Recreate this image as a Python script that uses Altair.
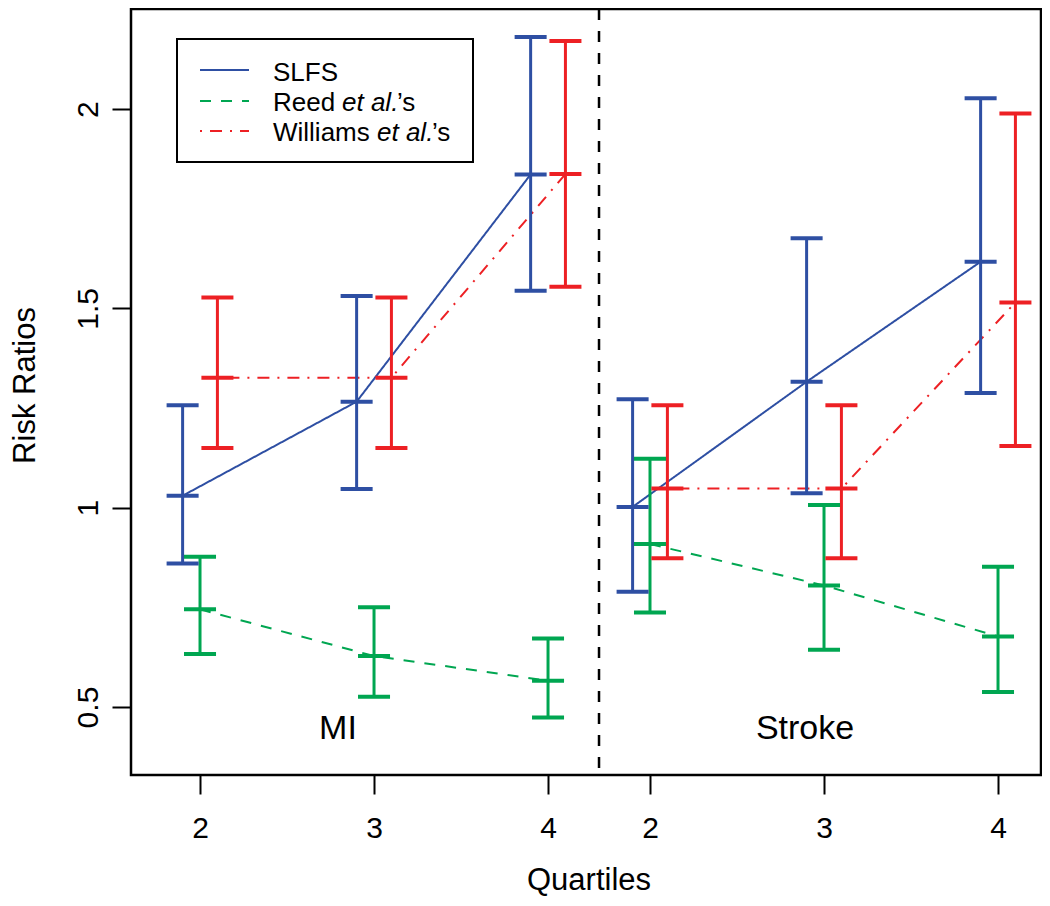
import altair as alt
import pandas as pd

# ---------------- data ----------------
quartiles = [2, 3, 4]
groups = ["MI", "Stroke"]
series_names = ["SLFS", "Reed", "Williams"]
tick_labels = ["2", "3", "4", "2", "3", "4"]

slfs_mi_est = [1.030, 1.266, 1.836]
slfs_mi_lo = [0.860, 1.047, 1.544]
slfs_mi_hi = [1.257, 1.531, 2.181]
slfs_st_est = [1.002, 1.316, 1.617]
slfs_st_lo = [0.789, 1.036, 1.288]
slfs_st_hi = [1.272, 1.676, 2.027]

reed_mi_est = [0.745, 0.628, 0.566]
reed_mi_lo = [0.633, 0.526, 0.474]
reed_mi_hi = [0.877, 0.750, 0.672]
reed_st_est = [0.909, 0.805, 0.677]
reed_st_lo = [0.737, 0.644, 0.538]
reed_st_hi = [1.123, 1.007, 0.852]

will_mi_est = [1.326, 1.326, 1.837]
will_mi_lo = [1.150, 1.150, 1.554]
will_mi_hi = [1.527, 1.527, 2.171]
will_st_est = [1.048, 1.048, 1.515]
will_st_lo = [0.873, 0.873, 1.155]
will_st_hi = [1.257, 1.257, 1.989]

# ---------------- layout constants ----------------
group_shift = {"MI": 0.0, "Stroke": 2.586}
series_offset = {"SLFS": -0.1, "Reed": 0.0, "Williams": 0.1}
CAP = 0.092
colors = ["#2E4FA3", "#00A651", "#ED2024"]
dashes = [[1, 0], [11, 10], [2, 8, 12, 8]]
FONT = "Liberation Sans"

table = {
    ("SLFS", "MI"): (slfs_mi_est, slfs_mi_lo, slfs_mi_hi),
    ("SLFS", "Stroke"): (slfs_st_est, slfs_st_lo, slfs_st_hi),
    ("Reed", "MI"): (reed_mi_est, reed_mi_lo, reed_mi_hi),
    ("Reed", "Stroke"): (reed_st_est, reed_st_lo, reed_st_hi),
    ("Williams", "MI"): (will_mi_est, will_mi_lo, will_mi_hi),
    ("Williams", "Stroke"): (will_st_est, will_st_lo, will_st_hi),
}
rows = []
for (s, g), (e, l, h) in table.items():
    for q, ev, lv, hv in zip(quartiles, e, l, h):
        rows.append({"series": s, "group": g, "quartile": q,
                     "est": ev, "lo": lv, "hi": hv,
                     "x": q - 1 + group_shift[g] + series_offset[s]})
df = pd.DataFrame(rows)

tick_values = [q - 1 + group_shift[g] for g in groups for q in quartiles]
sep_x = (tick_values[2] + tick_values[3]) / 2
label_expr = "{" + ",".join(
    f"'{v:.3f}':'{t}'" for v, t in zip(tick_values, tick_labels)) + "}[format(datum.value, '.3f')]"

xscale = alt.Scale(domain=[0.6034, 5.833], nice=False, zero=False)
yscale = alt.Scale(domain=[0.3295, 2.251], nice=False, zero=False)

xaxis = alt.Axis(values=tick_values, labelExpr=label_expr, tickSize=19, tickWidth=2,
                 tickColor="black", labelFontSize=30, labelFont=FONT, labelColor="black",
                 labelPadding=43, labelBaseline="alphabetic", labelFlush=False,
                 labelOverlap=False, domain=False, grid=False, titleFontSize=31,
                 titleFont=FONT, titleFontWeight="normal", titleColor="black",
                 titleX=457.5, titleY=114, titleBaseline="alphabetic")
yaxis = alt.Axis(values=[0.5, 1, 1.5, 2], format=".1~f", tickSize=19, tickWidth=2,
                 tickColor="black", labelFontSize=30, labelFont=FONT, labelColor="black",
                 labelAngle=270, labelAlign="center", labelBaseline="alphabetic",
                 labelPadding=15, labelFlush=False, labelOverlap=False, domain=False,
                 grid=False, titleFontSize=31, titleFont=FONT, titleFontWeight="normal",
                 titleColor="black", titleX=-97, titleY=376, titleAngle=270,
                 titleAlign="center", titleBaseline="alphabetic")

color = alt.Color("series:N", scale=alt.Scale(domain=series_names, range=colors), legend=None)
dash = alt.StrokeDash("series:N", scale=alt.Scale(domain=series_names, range=dashes), legend=None)

base = alt.Chart(df)

sep = alt.Chart(pd.DataFrame({"a": [0]})).mark_rule(
    color="black", strokeWidth=2.5, strokeDash=[11, 11]).encode(
    x=alt.datum(sep_x, scale=xscale))

lines = base.mark_line(strokeWidth=2).encode(
    x=alt.X("x:Q", scale=xscale, axis=xaxis, title="Quartiles"),
    y=alt.Y("est:Q", scale=yscale, axis=yaxis, title="Risk Ratios"),
    color=color, strokeDash=dash, detail="group:N")

stems = base.mark_rule(strokeWidth=3).encode(
    x="x:Q", y="lo:Q", y2="hi:Q", color=color)

caps = base.transform_fold(["lo", "est", "hi"], as_=["kind", "val"]).transform_calculate(
    xa=f"datum.x - {CAP}", xb=f"datum.x + {CAP}").mark_rule(strokeWidth=4).encode(
    x="xa:Q", x2="xb:Q", y="val:Q", color=color)

one = pd.DataFrame({"a": [0]})
gtext = []
for g, gx in zip(groups, [1.793, 4.477]):
    gtext.append(alt.Chart(one).mark_text(text=g, font=FONT, fontSize=34, color="black",
                                          align="center", baseline="alphabetic").encode(
        x=alt.datum(gx, scale=xscale), y=alt.datum(0.419, scale=yscale)))

# ---------------- legend ----------------
leg = [alt.Chart(one).mark_rect(fill="white", stroke="black", strokeWidth=2).encode(
    x=alt.value(46), x2=alt.value(342), y=alt.value(30), y2=alt.value(153))]
line_y = [61, 92, 122]
text_y = [72, 102, 132]
for i, s in enumerate(series_names):
    leg.append(alt.Chart(one).mark_rule(color=colors[i], strokeWidth=2,
                                        strokeDash=dashes[i]).encode(
        x=alt.value(69), x2=alt.value(118), y=alt.value(line_y[i])))
parts = [
    [("SLFS", "normal", 142)],
    [("Reed", "normal", 142), ("et al.", "italic", 211), ("\u2019s", "normal", 266)],
    [("Williams", "normal", 142), ("et al.", "italic", 246), ("\u2019s", "normal", 301)],
]
for i, row in enumerate(parts):
    for txt, style, px in row:
        leg.append(alt.Chart(one).mark_text(text=txt, font=FONT, fontSize=26,
                                            fontStyle=style, color="black", align="left",
                                            baseline="alphabetic").encode(
            x=alt.value(px), y=alt.value(text_y[i])))

chart = alt.layer(sep, lines, stems, caps, *gtext, *leg).properties(
    width=910, height=766,
    autosize=alt.AutoSizeParams(type="none"),
    padding={"left": 123, "top": 1, "right": 1, "bottom": 122},
).configure_view(stroke="black", strokeWidth=2.5)

chart.save("out.html", embed_options={"renderer": "svg", "actions": False})
